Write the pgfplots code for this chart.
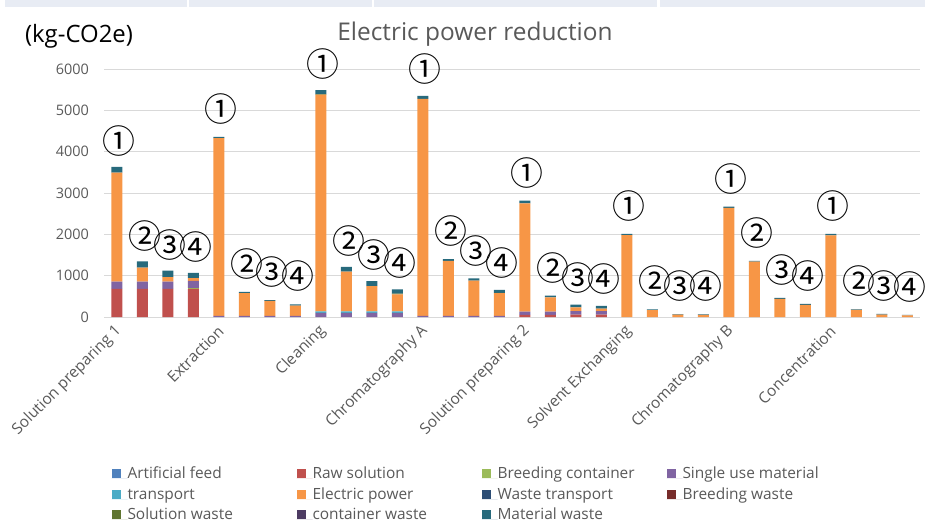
\documentclass[border=0pt]{standalone}
\usepackage{pgfplots}
\pgfplotsset{compat=1.18}
\usepackage{pgfplotstable}
\usepackage{fontspec}
\setmainfont{Open Sans}
\newfontfamily\cjk{Noto Sans CJK JP}
\definecolor{cAF}{HTML}{4F81BD}
\definecolor{cRS}{HTML}{C0504D}
\definecolor{cBC}{HTML}{9BBB59}
\definecolor{cSU}{HTML}{8064A2}
\definecolor{cTR}{HTML}{4BACC6}
\definecolor{cEP}{HTML}{F79646}
\definecolor{cWT}{HTML}{2C4D75}
\definecolor{cBW}{HTML}{772C2A}
\definecolor{cSW}{HTML}{5F7530}
\definecolor{cCW}{HTML}{4D3B62}
\definecolor{cMW}{HTML}{276A7C}
\definecolor{txt}{HTML}{595959}
\definecolor{gridc}{HTML}{D9D9D9}
\definecolor{strip}{HTML}{E8ECF4}

\pgfplotstableread{
x af raw bc sum tr ep wt bw sw cw mw lab
0 0 680 0 175 0 2635 0 0 0 0 140 ①
1 0 680 0 175 0 340 0 0 0 0 150 ②
2 0 680 0 175 0 110 0 0 0 0 160 ③
3 0 680 20 175 0 65 0 0 0 0 130 ④
4 0 0 0 30 0 4300 0 0 0 0 30 ①
5 0 0 0 25 0 555 0 0 0 0 25 ②
6 0 0 0 25 0 365 0 0 0 0 20 ③
7 0 0 0 25 0 250 0 0 0 0 30 ④
8 0 0 0 100 35 5245 0 0 15 0 95 ①
9 0 0 0 100 35 960 0 0 0 0 120 ②
10 0 0 0 100 35 615 0 0 0 0 120 ③
11 0 0 0 100 35 415 0 0 15 0 105 ④
12 0 0 0 30 0 5250 0 0 0 0 70 ①
13 0 0 0 30 0 1330 0 0 0 0 40 ②
14 0 0 0 30 0 850 0 0 0 0 55 ③
15 0 0 0 30 0 545 0 0 10 0 70 ④
16 0 50 0 80 0 2620 0 0 0 0 65 ①
17 0 50 0 80 0 345 0 0 0 0 45 ②
18 0 60 0 80 0 90 0 0 0 0 70 ③
19 0 60 0 80 0 65 0 0 0 0 65 ④
20 0 0 0 0 0 1980 0 0 0 0 30 ①
21 0 0 0 0 0 165 0 0 0 0 20 ②
22 0 0 0 0 0 55 0 0 0 0 17 ③
23 0 0 0 0 0 50 0 0 0 0 15 ④
24 0 0 0 0 0 2640 0 0 0 0 30 ①
25 0 0 0 0 0 1340 0 0 0 0 15 ②
26 0 0 0 0 0 440 0 0 0 0 20 ③
27 0 0 0 0 0 295 0 0 0 0 20 ④
28 0 0 0 0 0 1975 0 0 0 0 35 ①
29 0 0 0 0 0 170 0 0 0 0 15 ②
30 0 0 0 0 0 60 0 0 0 0 15 ③
31 0 0 0 0 0 40 0 0 0 0 10 ④
}\data

\newcommand{\legtxt}[1]{\makebox[169bp][l]{#1}}

\begin{document}
\begin{tikzpicture}
\path[use as bounding box] (0,0) rectangle (930bp,523bp);
\fill[strip] (5bp,516bp) rectangle (187bp,523bp);
\fill[strip] (189bp,516bp) rectangle (372bp,523bp);
\fill[strip] (374bp,516bp) rectangle (657bp,523bp);
\fill[strip] (660bp,516bp) rectangle (925bp,523bp);
\node[text=txt, font=\fontsize{24.5}{28}\selectfont] at (475bp,489bp) {Electric power reduction};
\node[text=black, font=\fontsize{24}{28}\selectfont] at (79bp,487bp) {(kg-CO2e)};
\begin{axis}[
  at={(104bp,206bp)}, anchor=south west,
  width=816bp, height=248bp, scale only axis,
  ybar stacked, bar width=11bp,
  xmin=-0.5, xmax=31.5, ymin=0, ymax=6000,
  clip=false,
  axis line style={draw=none},
  major tick length=0pt,
  ytick={0,1000,...,6000},
  xmajorgrids=false, ymajorgrids=true,
  y grid style={draw=gridc, line width=0.8bp},
  xtick={0,4,...,28},
  xticklabels={Solution preparing 1,Extraction,Cleaning,Chromatography A,Solution preparing 2,Solvent Exchanging,Chromatography B,Concentration},
  xticklabel style={xshift=3bp, yshift=-11bp, rotate=45, anchor=east, text=txt, font=\fontsize{15.5}{18}\selectfont, inner sep=1bp},
  yticklabel style={text=txt, font=\fontsize{14.5}{17}\selectfont, inner sep=0pt, xshift=-15bp},
  /pgf/number format/assume math mode=true,
  scaled y ticks=false,
  yticklabel={\pgfmathprintnumber[fixed,1000 sep={}]{\tick}},
  legend columns=4,
  legend style={at={(0.0092,-0.607)}, anchor=north west, draw=none, fill=none,
    inner sep=0pt, outer sep=0pt, row sep=6bp,
    font=\fontsize{15.5}{18}\selectfont, text=txt,
    nodes={inner sep=0pt, text height=11bp, text depth=3.5bp, anchor=base west}},
  legend cell align=left,
  legend image code/.code={\path (0bp,0bp) -- (16bp,0bp); \fill[#1] (0bp,0.5bp) rectangle (9bp,9.5bp);},
]
\addplot[fill=cAF, draw=none] table[x=x, y=af] {\data}; \addlegendentry{\legtxt{Artificial feed}}
\addplot[fill=cRS, draw=none] table[x=x, y=raw] {\data}; \addlegendentry{\legtxt{Raw solution}}
\addplot[fill=cBC, draw=none] table[x=x, y=bc] {\data}; \addlegendentry{\legtxt{Breeding container}}
\addplot[fill=cSU, draw=none] table[x=x, y=sum] {\data}; \addlegendentry{\legtxt{Single use material}}
\addplot[fill=cTR, draw=none] table[x=x, y=tr] {\data}; \addlegendentry{\legtxt{transport}}
\addplot[fill=cEP, draw=none] table[x=x, y=ep] {\data}; \addlegendentry{\legtxt{Electric power}}
\addplot[fill=cWT, draw=none] table[x=x, y=wt] {\data}; \addlegendentry{\legtxt{Waste transport}}
\addplot[fill=cBW, draw=none] table[x=x, y=bw] {\data}; \addlegendentry{\legtxt{Breeding waste}}
\addplot[fill=cSW, draw=none] table[x=x, y=sw] {\data}; \addlegendentry{\legtxt{Solution waste}}
\addplot[fill=cCW, draw=none] table[x=x, y=cw] {\data}; \addlegendentry{\legtxt{container waste}}
\addplot[fill=cMW, draw=none,
  point meta=explicit symbolic,
  nodes near coords={\pgfplotspointmeta},
  every node near coord/.append style={font=\cjk\fontsize{33}{33}\selectfont, text=black, anchor=south, inner sep=0pt, yshift=13bp, xshift=2.5bp}
] table[x=x, y=mw, meta=lab] {\data}; \addlegendentry{\legtxt{Material waste}}
\end{axis}
\end{tikzpicture}
\end{document}
